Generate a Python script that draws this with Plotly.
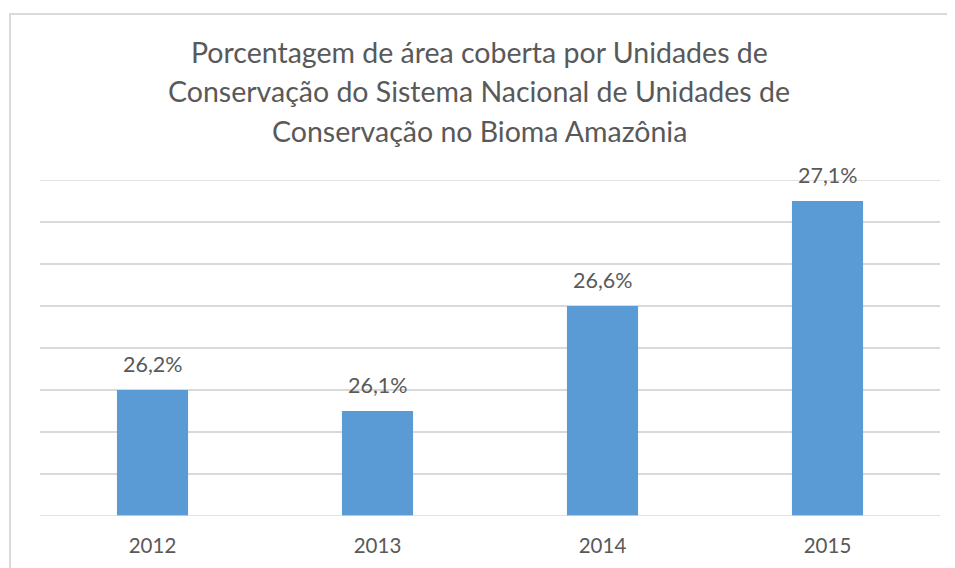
import plotly.graph_objects as go

years = ["2012", "2013", "2014", "2015"]
values = [26.2, 26.1, 26.6, 27.1]
labels = ["26,2%", "26,1%", "26,6%", "27,1%"]
title_lines = [
    "Porcentagem de área coberta por Unidades de",
    "Conservação do Sistema Nacional de Unidades de",
    "Conservação no Bioma Amazônia",
]

# page body has an 8px default margin; the figure is sized to fill the rest
OFF = 8
W, H = 955 - OFF, 568 - OFF
L, R, T, B = 40 - OFF, 15, 180 - OFF, 52
PW, PH = W - L - R, H - T - B

def px_x(px):  # page pixel -> paper
    return (px - OFF - L) / PW

def px_y(py):
    return (H - B - (py - OFF)) / PH

FONT = "Lato"
TXT = "#595959"

fig = go.Figure()
fig.add_trace(go.Bar(
    x=years, y=values,
    marker=dict(color="#5B9BD5", line=dict(width=0)),
    width=0.316, hoverinfo="skip",
))

annotations = []
for i, (v, lab) in enumerate(zip(values, labels)):
    annotations.append(dict(
        x=i, y=v, xref="x", yref="y", text=lab, showarrow=False,
        yanchor="bottom", yshift=11,
        font=dict(family=FONT, size=21.5, color=TXT),
    ))
for i, line in enumerate(title_lines):
    annotations.append(dict(
        x=px_x(479), y=px_y(52 + 39.5 * i), xref="paper", yref="paper",
        text=line, showarrow=False, xanchor="center", yanchor="middle",
        font=dict(family=FONT, size=28.5, color=TXT),
    ))

fig.update_layout(
    width=W, height=H,
    margin=dict(l=L, r=R, t=T, b=B, pad=0),
    paper_bgcolor="white", plot_bgcolor="white",
    showlegend=False,
    annotations=annotations,
    shapes=[dict(
        type="rect", xref="paper", yref="paper",
        x0=px_x(10), x1=px_x(1000), y0=px_y(14), y1=px_y(620),
        line=dict(color="#D9D9D9", width=2), fillcolor="rgba(0,0,0,0)",
        layer="below",
    )],
    xaxis=dict(
        type="category", showgrid=False, showline=False, zeroline=False,
        ticks="", ticklabelstandoff=15, range=[-0.5, 3.5],
        tickfont=dict(family=FONT, size=20.5, color=TXT),
    ),
    yaxis=dict(
        range=[25.6, 27.2], tick0=25.6, dtick=0.2, showticklabels=False,
        showgrid=True, gridcolor="#D9D9D9", gridwidth=1.5,
        zeroline=False, showline=False, fixedrange=True,
    ),
)
fig.add_hline(y=25.6, line=dict(color="#D9D9D9", width=1.5))
fig.add_hline(y=27.2, line=dict(color="#D9D9D9", width=1.5), layer="below")

fig.write_html("out.html")
